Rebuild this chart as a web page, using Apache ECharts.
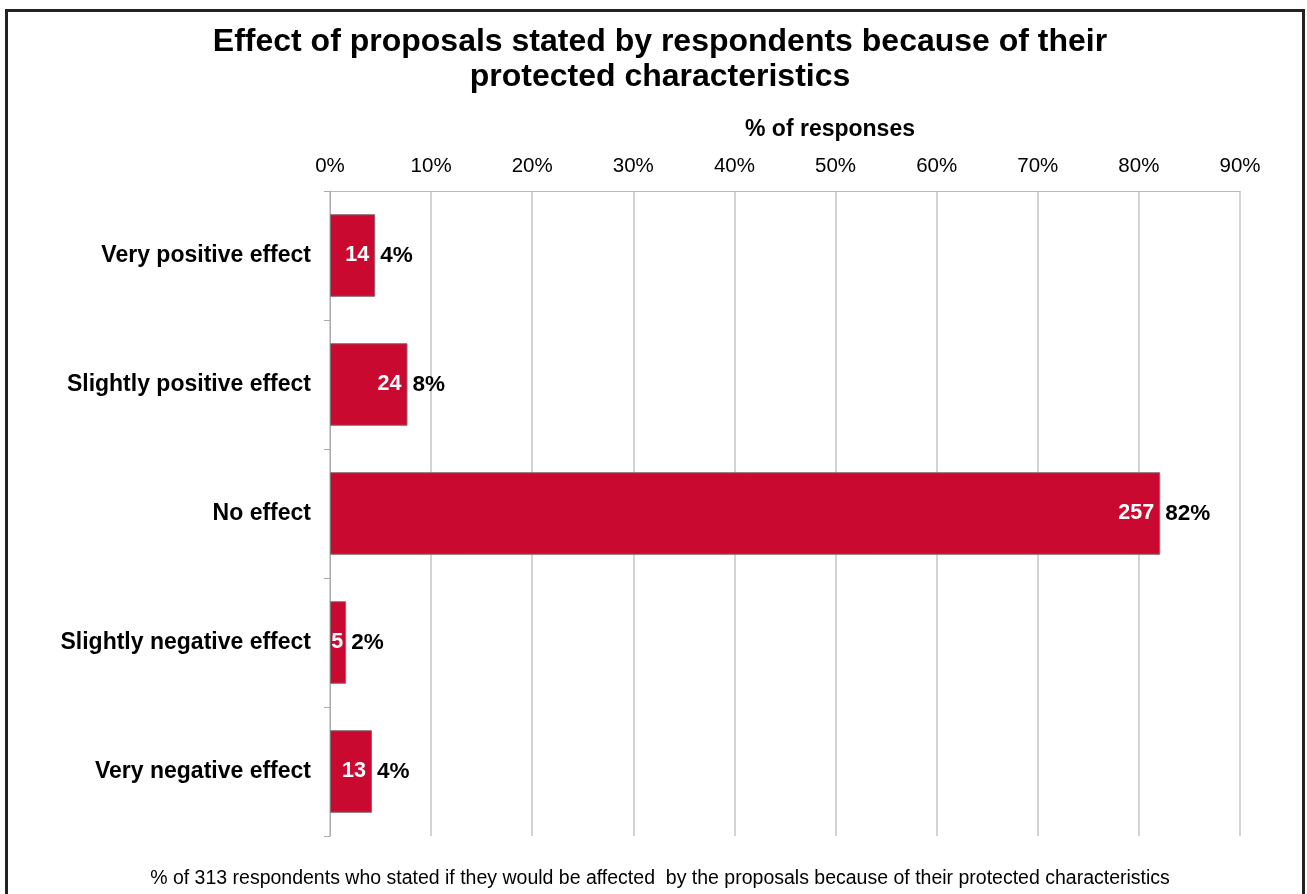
<!DOCTYPE html>
<html>
<head>
<meta charset="utf-8">
<script src="https://cdn.jsdelivr.net/npm/echarts@6/dist/echarts.min.js"></script>
<style>
  html, body { margin: 0; padding: 0; background: #fff; overflow: hidden; }
  #frame { position: absolute; left: 5px; top: 9px; width: 1300px; height: 920px; border: 3px solid #222; box-sizing: border-box; }
  #chart { position: absolute; left: 0; top: 0; width: 1307px; height: 894px; }
</style>
</head>
<body>
<div id="frame"></div>
<div id="chart"></div>
<script>
// Answer categories, top to bottom
const categories = [
  'Very positive effect',
  'Slightly positive effect',
  'No effect',
  'Slightly negative effect',
  'Very negative effect'
];
// Number of respondents giving each answer
const counts = [14, 24, 257, 5, 13];
const totalRespondents = 313;
// Axis tick labels (percent)
const xTicks = [0, 10, 20, 30, 40, 50, 60, 70, 80, 90];

const percents = counts.map(c => c / totalRespondents * 100);

// Narrow bars keep their count label closer to the bar end
const countBars = percents.map(v => ({
  value: v,
  label: { distance: v < 3 ? 3 : 6 }
}));

const FONT = '"Liberation Sans", Arial, sans-serif';
const chart = echarts.init(document.getElementById('chart'), null, { renderer: 'canvas' });

chart.setOption({
  backgroundColor: 'transparent',
  animation: false,
  title: [{
    text: 'Effect of proposals stated by respondents because of their\nprotected characteristics',
    left: 655, top: 20, textAlign: 'center',
    textStyle: { fontFamily: FONT, fontWeight: 'bold', fontSize: 32, lineHeight: 35, color: '#000' }
  }, {
    text: '% of 313 respondents who stated if they would be affected  by the proposals because of their protected characteristics',
    left: 655, top: 864, textAlign: 'center',
    textStyle: { fontFamily: FONT, fontWeight: 'normal', fontSize: 19.5, color: '#000' }
  }],
  grid: { left: 330, right: 67, top: 191, bottom: 58, containLabel: false },
  xAxis: {
    type: 'value', position: 'top',
    min: 0, max: 90, interval: 10,
    name: '% of responses', nameLocation: 'middle', nameGap: 50,
    nameTextStyle: { fontFamily: FONT, fontWeight: 'bold', fontSize: 23, color: '#000', padding: [0, 0, 0, 90] },
    axisLine: { show: true, lineStyle: { color: '#bbb', width: 1 } },
    axisTick: { show: false },
    axisLabel: {
      fontFamily: FONT, fontSize: 20.5, color: '#000', margin: 14,
      formatter: v => xTicks.includes(v) ? v + '%' : ''
    },
    splitLine: { show: true, lineStyle: { color: '#c4c4c4', width: 1.5 } }
  },
  yAxis: {
    type: 'category', data: categories, inverse: true,
    axisLine: { show: true, lineStyle: { color: '#aaa', width: 1 } },
    axisTick: { show: true, length: 6, lineStyle: { color: '#aaa' } },
    axisLabel: { fontFamily: FONT, fontWeight: 'bold', fontSize: 23, color: '#000', margin: 19 }
  },
  series: [{
    type: 'bar',
    data: countBars,
    barWidth: '64%',
    itemStyle: { color: '#CA0930', borderColor: '#8a6a70', borderWidth: 1 },
    label: {
      show: true, position: 'insideRight', distance: 6,
      fontFamily: FONT, fontWeight: 'bold', fontSize: 21.5, color: '#fff',
      formatter: p => counts[p.dataIndex]
    },
    z: 2
  }, {
    type: 'bar',
    data: percents,
    barWidth: '64%',
    barGap: '-100%',
    itemStyle: { color: 'rgba(0,0,0,0)' },
    label: {
      show: true, position: 'right', distance: 5,
      fontFamily: FONT, fontWeight: 'bold', fontSize: 22.5, color: '#000',
      formatter: p => Math.round(p.value) + '%'
    },
    silent: true,
    z: 3
  }]
});
</script>
</body>
</html>
